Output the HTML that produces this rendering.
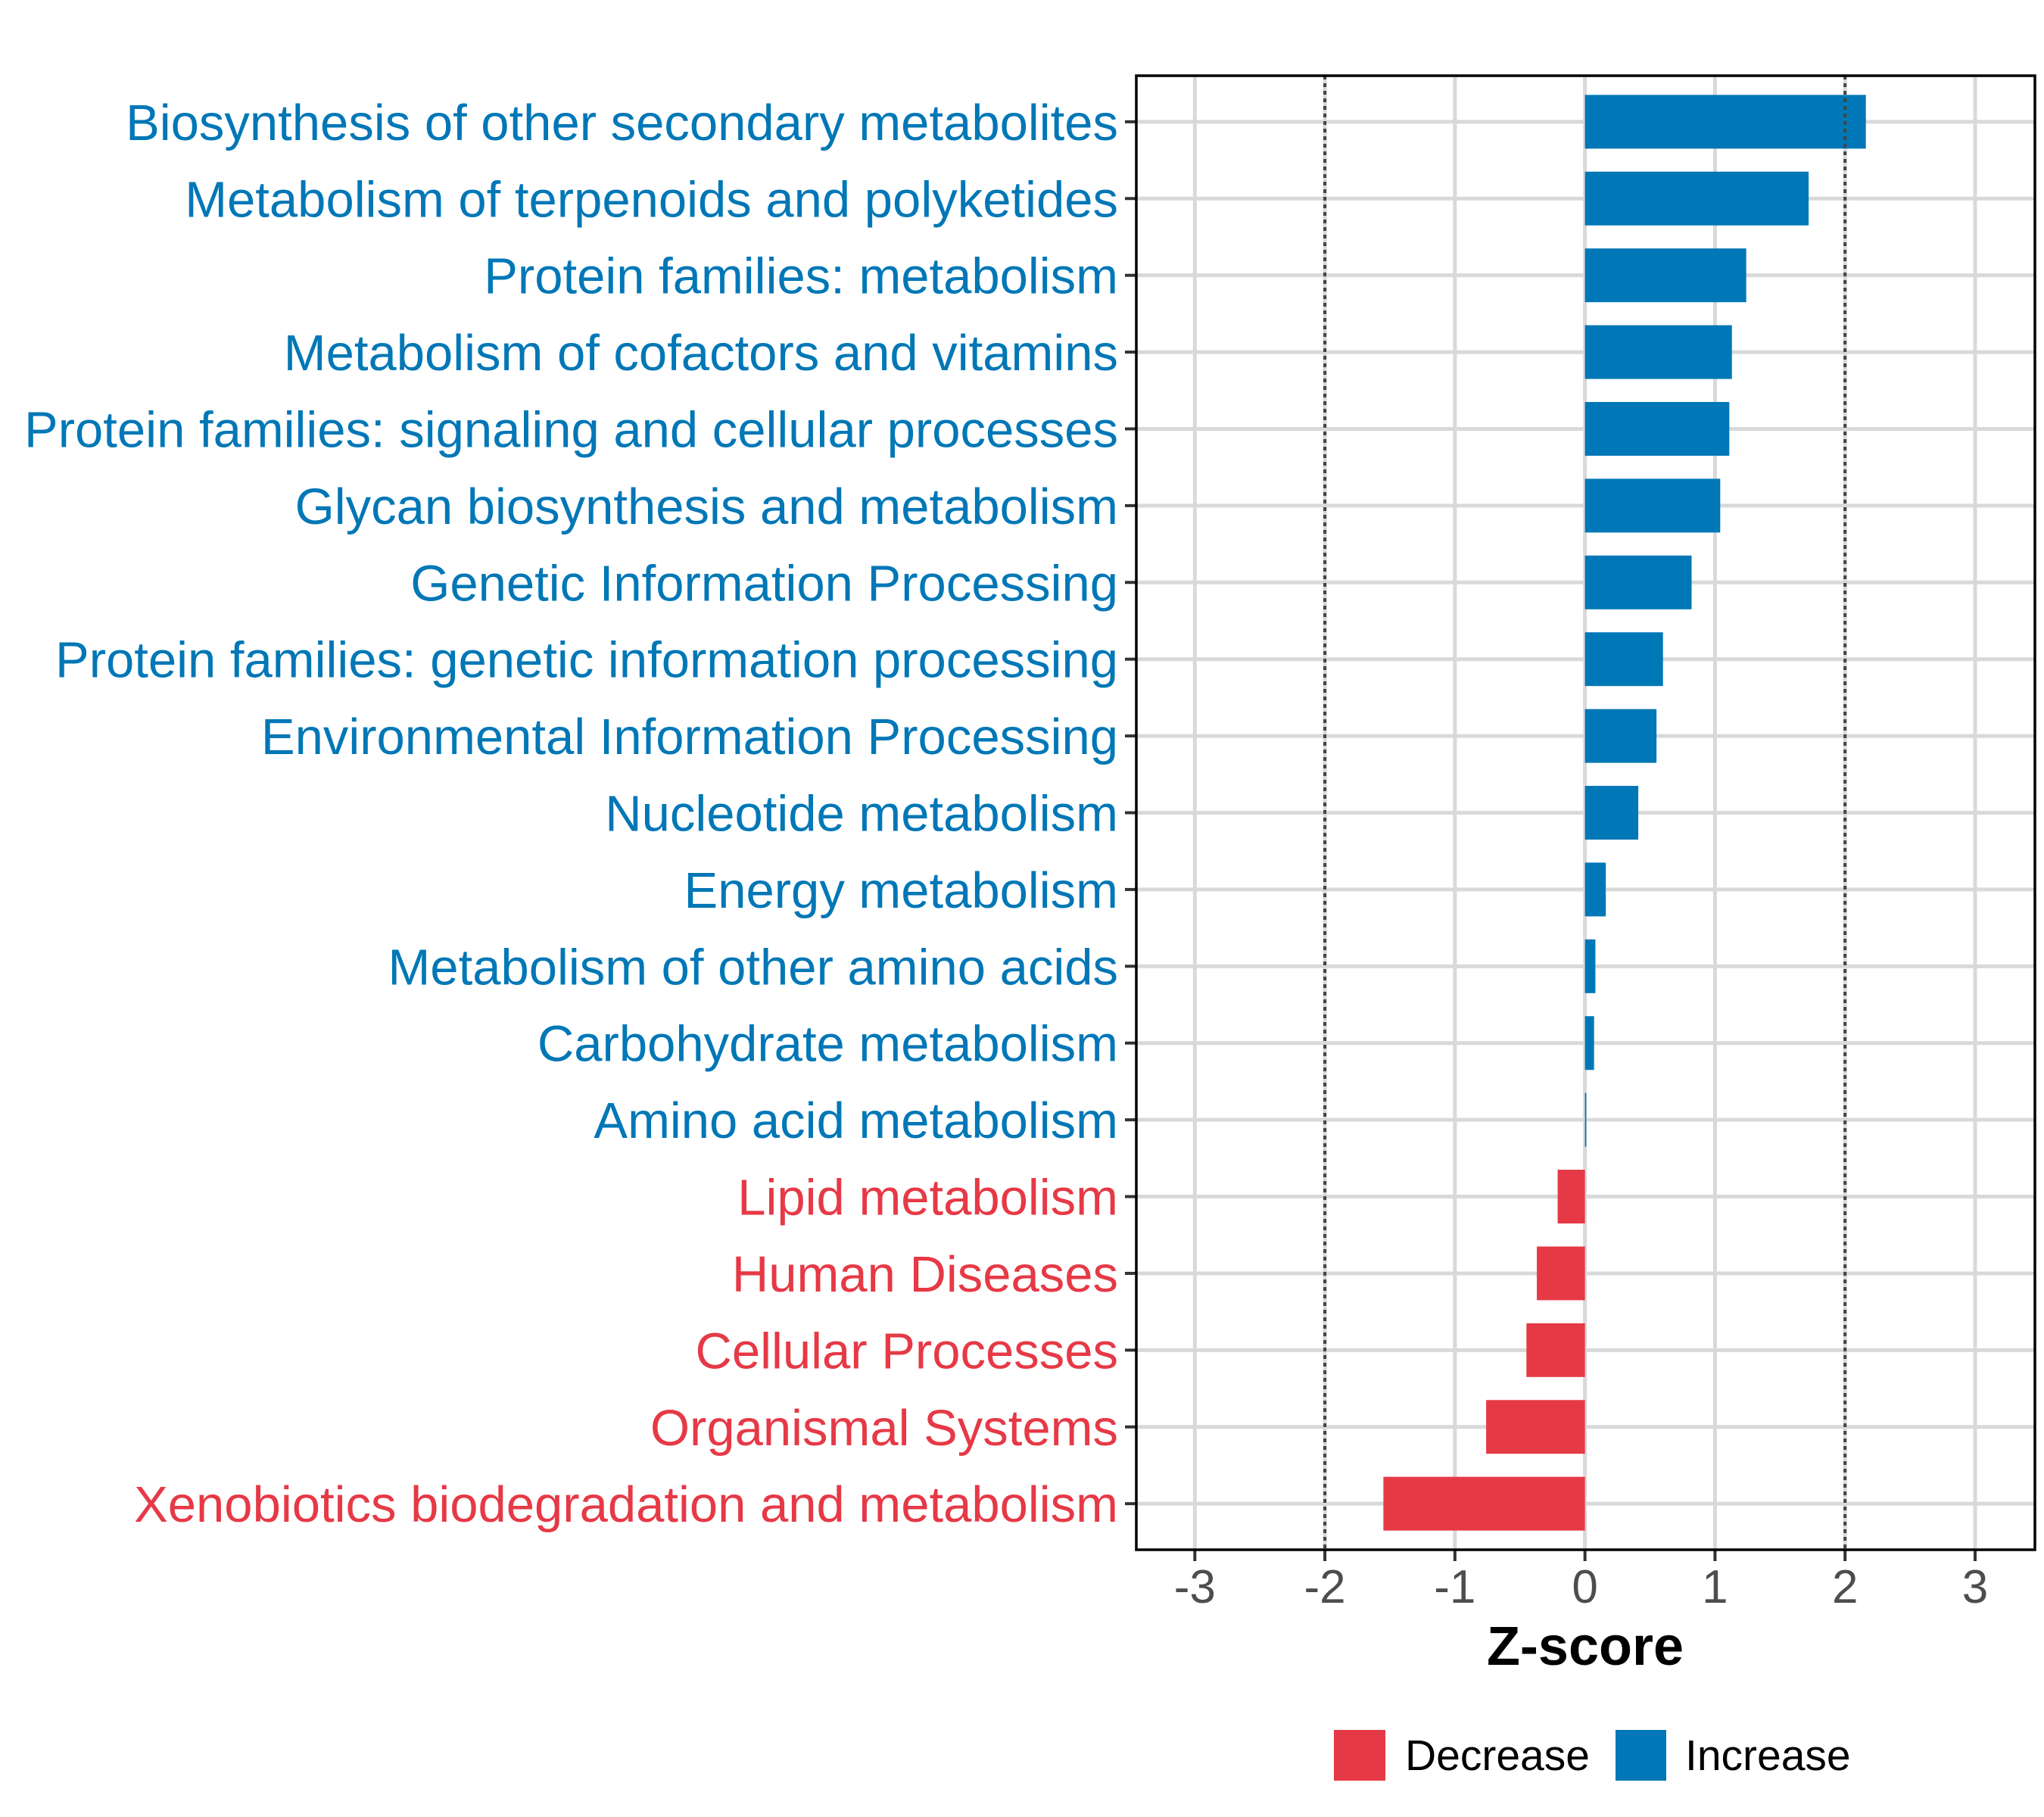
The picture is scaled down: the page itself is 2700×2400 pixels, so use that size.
<!DOCTYPE html>
<html><head><meta charset="utf-8"><style>
html,body{margin:0;padding:0;background:#fff;}
svg{display:block;font-family:"Liberation Sans",Arial,sans-serif;}
</style></head><body>
<svg id="chart" width="2700" height="2400" viewBox="0 0 2700 2400" xmlns="http://www.w3.org/2000/svg">
<rect x="0" y="0" width="2700" height="2400" fill="#fff"/>
<g id="grid"></g>
<g id="bars"></g>
<g id="axes"></g>
<g id="labels"></g>
<text x="2094" y="2199" font-size="72" font-weight="bold" text-anchor="middle" fill="#000">Z-score</text>
<g>
<rect x="1762" y="2285" width="68" height="67" fill="#E63946"/>
<text x="1856" y="2338" font-size="57" fill="#000">Decrease</text>
<rect x="2134" y="2285" width="67" height="67" fill="#0077B6"/>
<text x="2226" y="2338" font-size="57" fill="#000">Increase</text>
</g>
</svg>
<script>
const categories = ["Biosynthesis of other secondary metabolites","Metabolism of terpenoids and polyketides","Protein families: metabolism","Metabolism of cofactors and vitamins","Protein families: signaling and cellular processes","Glycan biosynthesis and metabolism","Genetic Information Processing","Protein families: genetic information processing","Environmental Information Processing","Nucleotide metabolism","Energy metabolism","Metabolism of other amino acids","Carbohydrate metabolism","Amino acid metabolism","Lipid metabolism","Human Diseases","Cellular Processes","Organismal Systems","Xenobiotics biodegradation and metabolism"];
const zscores = [2.16,1.72,1.24,1.13,1.11,1.04,0.82,0.60,0.55,0.41,0.16,0.08,0.07,0.01,-0.21,-0.37,-0.45,-0.76,-1.55];
const xTicks = [-3,-2,-1,0,1,2,3];
const thresholds = [-2,2];

const NS="http://www.w3.org/2000/svg";
const PL=1501, PR=2688, PT=100, PB=2047;
const XMIN=-3.45, XMAX=3.46;
function xs(v){return PL+(v-XMIN)/(XMAX-XMIN)*(PR-PL);}
const n=categories.length;
const step=(PB-PT)/(n-1+1.2);
function ys(i){return PT+step*(0.6+i);}
function mk(tag,attrs,parent){const e=document.createElementNS(NS,tag);for(const k in attrs)e.setAttribute(k,attrs[k]);parent.appendChild(e);return e;}
const grid=document.getElementById('grid'),bars=document.getElementById('bars'),axes=document.getElementById('axes'),labels=document.getElementById('labels');
const BLUE="#0077B6",RED="#E63946";
xTicks.forEach(t=>{
  const l=mk('line',{x1:xs(t),x2:xs(t),y1:PT,y2:PB,stroke:'#d9d9d9','stroke-width':5},grid);
  
  
  const tk=mk('line',{x1:xs(t),x2:xs(t),y1:PB,y2:PB+15,stroke:'#333','stroke-width':4},axes);
  
  
  const tx=mk('text',{x:xs(t),y:2117,'font-size':62,'text-anchor':'middle',fill:'#4d4d4d'},axes);
  tx.textContent=String(t);
  
  
});
categories.forEach((c,i)=>{
  const y=ys(i);
  const g=mk('line',{x1:PL,x2:PR,y1:y,y2:y,stroke:'#d9d9d9','stroke-width':5},grid);
  
  
  const v=zscores[i];
  const col=v>=0?BLUE:RED;
  const h=step*0.7;
  const x0=Math.min(xs(0),xs(v)), w=Math.max(Math.abs(xs(v)-xs(0)),1);
  const r=mk('rect',{x:x0,y:y-h/2,width:w,height:h,fill:col},bars);
  
  
  const tk=mk('line',{x1:PL-15,x2:PL,y1:y,y2:y,stroke:'#333','stroke-width':4},axes);
  
  
  const t=mk('text',{x:1477,y:y+24,'font-size':67,'text-anchor':'end',fill:col},labels);
  t.textContent=c;
  
  
});
thresholds.forEach(t=>{
  const l=mk('line',{x1:xs(t),x2:xs(t),y1:PT,y2:PB,stroke:'#444','stroke-width':4,'stroke-dasharray':'5 5'},bars);
  
  
});
const fr=mk('rect',{x:PL,y:PT,width:PR-PL,height:PB-PT,fill:'none',stroke:'#000','stroke-width':3.5},axes);


</script>
</body></html>
